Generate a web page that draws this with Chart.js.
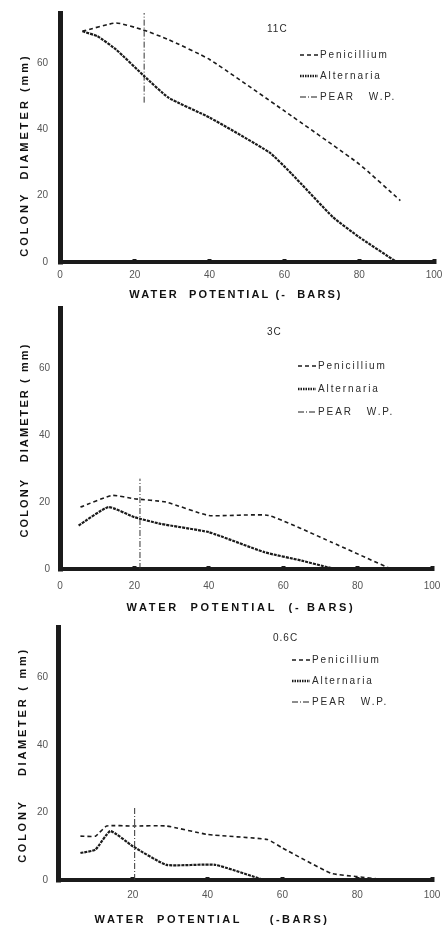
<!DOCTYPE html>
<html>
<head>
<meta charset="utf-8">
<script src="https://cdn.jsdelivr.net/npm/chart.js@4.4.1/dist/chart.umd.min.js"></script>
<style>
  html, body { margin: 0; padding: 0; background: #fff; }
  #wrap { position: relative; width: 443px; height: 926px; overflow: hidden; }
  #wrap canvas { position: absolute; left: 0; }
</style>
</head>
<body>
<div id="wrap">
  <canvas id="p11" width="443" height="302" style="top:0px"></canvas>
  <canvas id="p3" width="443" height="316" style="top:300px"></canvas>
  <canvas id="p06" width="443" height="310" style="top:616px"></canvas>
</div>
<script>
// tick values
const xTicksFull = [0, 20, 40, 60, 80, 100];
const xTicksNoZero = [20, 40, 60, 80, 100];
const yTicks = [0, 20, 40, 60];

// 11C
const penX11 = [6, 15, 22, 29, 40, 60, 80, 91];
const penY11 = [69.5, 72, 70, 67, 61, 45.5, 29.5, 18.5];
const altX11 = [6, 10, 15, 22.5, 29, 40, 56, 62, 73, 80, 90];
const altY11 = [69.5, 68, 64, 56, 49.5, 43.5, 33, 26.5, 13.5, 7.5, 0];
const pearX11 = [22.5, 22.5];
const pearY11 = [48, 75];

// 3C
const penX3 = [5.5, 14, 20, 28.5, 40, 56, 73, 89];
const penY3 = [18.5, 22, 21, 20, 16, 16, 8, 0];
const altX3 = [5, 13, 20, 27, 40, 55, 65, 72, 74];
const altY3 = [13, 18.5, 15.5, 13.5, 11, 5, 2.5, 0.5, 0];
const pearX3 = [21.5, 21.5];
const pearY3 = [0, 27];

// 0.6C
const penX06 = [6, 10, 13, 20, 29, 40, 56, 60, 73, 80, 88];
const penY06 = [13, 13, 16, 16, 16, 13.5, 12, 9.5, 2, 1, 0];
const altX06 = [6, 10, 14, 20, 29, 42, 55];
const altY06 = [8, 9, 14.5, 10, 4.5, 4.5, 0];
const pearX06 = [20.5, 20.5];
const pearY06 = [0, 21.5];

const INK = '#1b1b1b';
const PEN_DASH = [4, 3];
const ALT_DASH = [3, 1];
const PEAR_DASH = [6, 2, 1, 2];

function pts(xs, ys) {
  return xs.map((x, i) => ({ x: x, y: ys[i] }));
}

// draws panel label, key, axis titles (page coords, shifted by canvas top)
const panelText = {
  id: 'panelText',
  afterDraw(chart, args, o) {
    const ctx = chart.ctx;
    const top = o.top;
    ctx.save();
    ctx.fillStyle = '#2a2a2a';
    ctx.strokeStyle = INK;
    ctx.textBaseline = 'middle';

    ctx.font = '10px "Liberation Sans", Arial, sans-serif';
    ctx.letterSpacing = '1px';
    ctx.textAlign = 'left';
    ctx.fillText(o.label, o.labelX, o.labelY - top);

    o.key.forEach((k, i) => {
      const y = o.keyY + i * o.keyGap - top;
      ctx.setLineDash(k.dash);
      ctx.lineWidth = k.width;
      ctx.beginPath();
      ctx.moveTo(o.keyX, y);
      ctx.lineTo(o.keyX + 18, y);
      ctx.stroke();
      ctx.setLineDash([]);
      ctx.letterSpacing = '1.9px';
      ctx.fillText(k.text, o.keyX + 20, y);
    });

    ctx.fillStyle = '#111';
    ctx.font = 'bold 11px "Liberation Sans", Arial, sans-serif';
    ctx.textAlign = 'center';
    ctx.letterSpacing = o.xSpacing;
    ctx.fillText(o.xTitle, o.xTitleX, o.xTitleY - top);

    ctx.translate(o.yTitleX, o.yTitleY - top);
    ctx.rotate(-Math.PI / 2);
    ctx.letterSpacing = o.ySpacing;
    ctx.fillText(o.yTitle, 0, 0);
    ctx.restore();
  }
};

function makePanel(id, cfg) {
  const keyItems = [
    { text: 'Penicillium', dash: PEN_DASH, width: 1.4 },
    { text: 'Alternaria', dash: [1.5, 1], width: 2.4 },
    { text: 'PEAR   W.P.', dash: PEAR_DASH, width: 1 }
  ];
  new Chart(document.getElementById(id), {
    type: 'line',
    data: {
      datasets: [
        { label: 'Penicillium', data: pts(cfg.penX, cfg.penY), borderColor: INK, borderWidth: 1.6, borderDash: PEN_DASH, tension: 0.15 },
        { label: 'Alternaria', data: pts(cfg.altX, cfg.altY), borderColor: INK, borderWidth: 2.2, borderDash: ALT_DASH, tension: 0.15 },
        { label: 'PEAR W.P.', data: pts(cfg.pearX, cfg.pearY), borderColor: '#333', borderWidth: 1, borderDash: PEAR_DASH, tension: 0 }
      ]
    },
    options: {
      responsive: false,
      animation: false,
      devicePixelRatio: 1,
      layout: { padding: cfg.pad },
      elements: { point: { radius: 0 } },
      plugins: {
        legend: { display: false },
        tooltip: { enabled: false },
        panelText: Object.assign({ key: keyItems }, cfg.text)
      },
      scales: {
        x: {
          type: 'linear',
          min: 0,
          max: 100,
          afterBuildTicks: (s) => { s.ticks = cfg.xTicks.map((v) => ({ value: v })); },
          afterFit: (s) => { s.height = 24; s.paddingLeft = 0; s.paddingRight = 0; },
          border: { display: true, width: 4, color: INK },
          grid: { drawOnChartArea: false, drawTicks: true, tickLength: -3, tickWidth: 4, tickColor: INK },
          ticks: { autoSkip: false, maxRotation: 0, padding: cfg.xPad, color: '#555', font: { family: '"Liberation Sans", Arial, sans-serif', size: 10 } }
        },
        y: {
          type: 'linear',
          min: 0,
          max: cfg.yMax,
          afterBuildTicks: (s) => { s.ticks = yTicks.map((v) => ({ value: v })); },
          afterFit: (s) => { s.width = cfg.yWidth; s.paddingTop = 0; s.paddingBottom = 0; },
          border: { display: true, width: 5, color: INK },
          grid: { drawOnChartArea: false, drawTicks: true, tickLength: -3, tickWidth: 4, tickColor: INK },
          ticks: { padding: cfg.yPad, color: '#555', font: { family: '"Liberation Sans", Arial, sans-serif', size: 10 } }
        }
      }
    },
    plugins: [panelText]
  });
}

makePanel('p11', {
  penX: penX11, penY: penY11, altX: altX11, altY: altY11, pearX: pearX11, pearY: pearY11,
  xTicks: xTicksFull, yMax: 75, yWidth: 60, xPad: 10, yPad: 15,
  pad: { top: 13, right: 9, bottom: 16, left: 0 },
  text: {
    top: 0, label: '11C', labelX: 267, labelY: 29,
    keyX: 300, keyY: 55, keyGap: 21,
    xTitle: 'WATER  POTENTIAL (-  BARS)', xTitleX: 236, xTitleY: 295, xSpacing: '2.1px',
    yTitle: 'COLONY  DIAMETER (mm)', yTitleX: 25, yTitleY: 155, ySpacing: '3px'
  }
});

makePanel('p3', {
  penX: penX3, penY: penY3, altX: altX3, altY: altY3, pearX: pearX3, pearY: pearY3,
  xTicks: xTicksFull, yMax: 78, yWidth: 60, xPad: 14, yPad: 13,
  pad: { top: 8, right: 11, bottom: 23, left: 0 },
  text: {
    top: 300, label: '3C', labelX: 267, labelY: 332,
    keyX: 298, keyY: 366, keyGap: 23,
    xTitle: 'WATER  POTENTIAL  (- BARS)', xTitleX: 241, xTitleY: 608, xSpacing: '2.7px',
    yTitle: 'COLONY   DIAMETER ( mm)', yTitleX: 25, yTitleY: 440, ySpacing: '2.1px'
  }
});

makePanel('p06', {
  penX: penX06, penY: penY06, altX: altX06, altY: altY06, pearX: pearX06, pearY: pearY06,
  xTicks: xTicksNoZero, yMax: 75, yWidth: 58, xPad: 12, yPad: 13,
  pad: { top: 11, right: 11, bottom: 22, left: 0 },
  text: {
    top: 616, label: '0.6C', labelX: 273, labelY: 638,
    keyX: 292, keyY: 660, keyGap: 21,
    xTitle: 'WATER  POTENTIAL     (-BARS)', xTitleX: 212, xTitleY: 920, xSpacing: '2.5px',
    yTitle: 'COLONY    DIAMETER ( mm)', yTitleX: 23, yTitleY: 755, ySpacing: '2.75px'
  }
});
</script>
</body>
</html>
